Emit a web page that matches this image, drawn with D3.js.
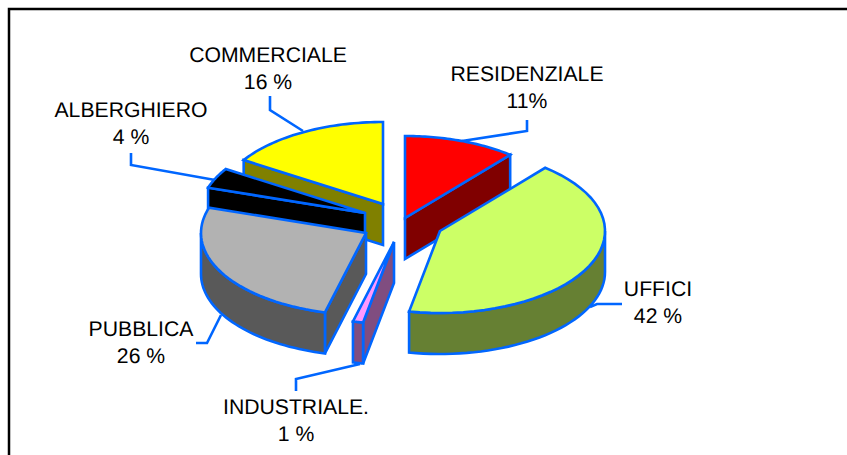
<!DOCTYPE html>
<html><head><meta charset="utf-8">
<script src="https://cdn.jsdelivr.net/npm/d3@7/dist/d3.min.js"></script>
<style>html,body{margin:0;padding:0;background:#fff}svg{display:block}text{font-family:"Liberation Sans",Arial,sans-serif;font-size:21.2px;fill:#000;text-rendering:geometricPrecision}</style>
</head><body><svg id="c" width="847" height="455"></svg>
<script>
const categories = ["RESIDENZIALE","UFFICI","INDUSTRIALE.","PUBBLICA","ALBERGHIERO","COMMERCIALE"];
const values = [11,42,1,26,4,16];
const valueLabels = ["11%","42 %","1 %","26 %","4 %","16 %"];
const topColors = ["#ff0000","#ccff66","#ff99ff","#b2b2b2","#000000","#ffff00"];
const sideColors = ["#800000","#668033","#804d80","#595959","#000000","#808000"];

// layout
const rx = 165, ry = 82, depth = 41;
const centers = [[405,218],[440,231],[394,242],[366,233],[365,213],[383,204]];
const drawOrder = [5,0,4,3,1,2];
const labelPos = [[527,81],[658,296],[296,414],[141,336],[131,117],[268,62]];
const leaders = [
 [[462,141],[527,131],[527,120]],
 [[590,307],[597,304],[622,304]],
 [[360,364],[296,379],[296,391]],
 [[221,315],[207,343],[196,343]],
 [[215,180],[131,165],[131,153]],
 [[303,131],[270,110],[270,96]]
];
const stroke = "#0066ff", sw = 2.6;

const svg = d3.select("#c");
svg.append("rect").attr("x",9).attr("y",9).attr("width",900).attr("height",500).attr("fill","#fff").attr("stroke","#000").attr("stroke-width",2.5);

const line = d3.line();
leaders.forEach(l=>svg.append("path").attr("d",line(l)).attr("fill","none").attr("stroke",stroke).attr("stroke-width",sw));

const pie = d3.pie().sort(null).value(d=>d)(values);
const pt = (c,a,dz=0)=>[c[0]+rx*Math.sin(a), c[1]-ry*Math.cos(a)+dz];
const arcPts = (c,a0,a1,dz=0)=>d3.range(0,41).map(i=>pt(c,a0+(a1-a0)*i/40,dz));

drawOrder.forEach(i=>{
  const p = pie[i], c = centers[i], a0=p.startAngle, a1=p.endAngle, g=svg.append("g");
  const style = (s,f)=>s.attr("fill",f).attr("stroke",stroke).attr("stroke-width",sw).attr("stroke-linejoin","miter");
  const cb=[c[0],c[1]+depth];
  // radial walls that face the viewer
  if(a0>Math.PI) style(g.append("path").attr("d",line([c,pt(c,a0),pt(c,a0,depth),cb])+"Z"),sideColors[i]);
  if(a1<Math.PI) style(g.append("path").attr("d",line([c,pt(c,a1),pt(c,a1,depth),cb])+"Z"),sideColors[i]);
  // outer rim (front part only)
  const lo=Math.max(a0,Math.PI/2), hi=Math.min(a1,Math.PI*1.5);
  if(hi>lo){
    const top=arcPts(c,lo,hi), bot=arcPts(c,lo,hi,depth).reverse();
    style(g.append("path").attr("d",line(top.concat(bot))+"Z"),sideColors[i]);
  }
  style(g.append("path").attr("d",line([c].concat(arcPts(c,a0,a1)))+"Z"),topColors[i]);
});

categories.forEach((n,i)=>{
  const t=svg.append("text").attr("text-anchor","middle").attr("x",labelPos[i][0]).attr("y",labelPos[i][1]);
  t.append("tspan").attr("x",labelPos[i][0]).text(n);
  t.append("tspan").attr("x",labelPos[i][0]).attr("dy",27).text(valueLabels[i]);
});
</script></body></html>
